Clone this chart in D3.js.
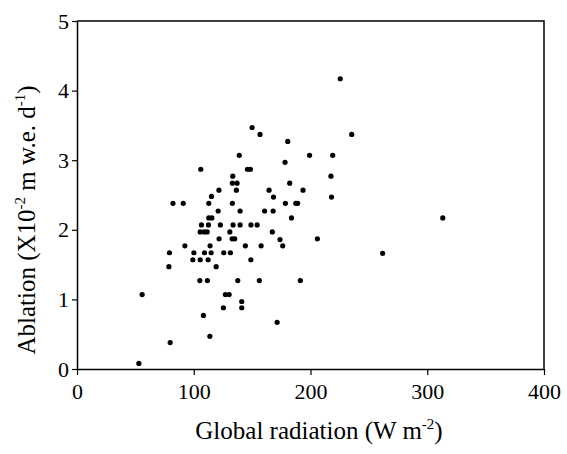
<!DOCTYPE html>
<html>
<head>
<meta charset="utf-8">
<script src="https://cdn.jsdelivr.net/npm/d3@7"></script>
<style>
  body { margin: 0; background: #fff; }
  svg { display: block; font-family: "Liberation Serif", "DejaVu Serif", serif; }
  .tick text { font-size: 22px; fill: #000; }
</style>
</head>
<body>
<div id="vis"></div>
<script>
// global radiation (W m-2) vs ablation (x10-2 m w.e. d-1)
var radiation = [
  53, 55.8, 79.8, 78.7, 79.2, 82.2, 91, 92.4, 99.2, 100.1,
  105.5, 105.2, 105.5, 106.6, 106, 108.3, 108.9, 109.2, 111.5, 111.7,
  112.3, 112.6, 112.9, 112.9, 113.8, 114, 114.9, 115.2, 115.5, 119.2,
  120.9, 121.7, 121.6, 122.8, 125.4, 125.7, 127.1, 130.3, 130.9, 131.4,
  132.9, 133.1, 133.1, 133.4, 133.7, 135.1, 136.5, 137.1, 137.7, 139,
  139.7, 139.7, 141.1, 141.1, 144.2, 146, 148.5, 149, 148.9, 150,
  154.3, 156.2, 156.8, 157.7, 160.7, 164.5, 167.3, 168, 168.3, 171.4,
  173.9, 176.2, 178.2, 178.5, 180.5, 182.2, 183.7, 187.4, 189, 191.3,
  193.6, 199.2, 205.9, 217.5, 218, 219, 225.5, 235.3, 261.8, 313.3
];
var ablation = [
  0.08, 1.07, 0.38, 1.47, 1.67, 2.38, 2.38, 1.77, 1.57, 1.67,
  1.57, 1.27, 1.97, 2.07, 2.87, 0.77, 1.97, 1.67, 1.97, 1.27,
  1.57, 2.07, 2.38, 2.17, 0.47, 1.77, 1.67, 2.48, 2.17, 1.47,
  2.27, 1.87, 2.57, 2.07, 0.88, 1.67, 1.07, 1.07, 1.97, 1.67,
  1.87, 2.38, 2.67, 2.77, 2.07, 1.87, 2.57, 2.67, 1.27, 3.07,
  2.27, 2.07, 0.97, 0.88, 1.77, 2.87, 2.87, 2.07, 1.57, 3.47,
  2.07, 1.27, 3.37, 1.77, 2.27, 2.57, 1.97, 2.27, 2.47, 0.67,
  1.86, 1.77, 2.97, 2.38, 3.27, 2.67, 2.17, 2.38, 2.38, 1.27,
  2.57, 3.07, 1.87, 2.77, 2.47, 3.07, 4.17, 3.37, 1.66, 2.17
];
var xTicks = [0, 100, 200, 300, 400];
var yTicks = [0, 1, 2, 3, 4, 5];

var width = 567;
var height = 454;
var margin = { top: 21, right: 23, bottom: 85, left: 77 };
var innerW = width - margin.left - margin.right;
var innerH = height - margin.top - margin.bottom;

var svg = d3.select('#vis')
  .append('svg')
  .attr('width', width)
  .attr('height', height);

var g = svg.append('g')
  .attr('transform', 'translate(' + margin.left + ',' + margin.top + ')');

var x = d3.scaleLinear().domain([0, 400]).range([0, innerW]);
var y = d3.scaleLinear().domain([0, 5]).range([innerH, 0]);

// frame (top and right)
g.append('path')
  .attr('d', 'M0,0H' + innerW + 'V' + innerH)
  .attr('fill', 'none')
  .attr('stroke', '#000')
  .attr('stroke-width', 1.5);

var xAxis = g.append('g')
  .attr('transform', 'translate(0,' + innerH + ')')
  .call(d3.axisBottom(x).tickValues(xTicks).tickFormat(d3.format('d'))
    .tickSize(6).tickPadding(8).tickSizeOuter(0));

var yAxis = g.append('g')
  .call(d3.axisLeft(y).tickValues(yTicks).tickFormat(d3.format('d'))
    .tickSize(5).tickPadding(3).tickSizeOuter(0));

[xAxis, yAxis].forEach(function (ax) {
  ax.select('.domain').attr('stroke-width', 1.5);
  ax.selectAll('.tick line').attr('stroke-width', 1.2);
  ax.attr('font-family', null).attr('font-size', null);
});

var points = radiation.map(function (r, i) { return { r: r, a: ablation[i] }; });

g.selectAll('.dot')
  .data(points)
  .enter().append('circle')
  .attr('class', 'dot')
  .attr('cx', function (d) { return x(d.r); })
  .attr('cy', function (d) { return y(d.a); })
  .attr('r', 2.6)
  .attr('fill', '#000');

// x title
var xt = svg.append('text')
  .attr('x', 319)
  .attr('y', 439)
  .attr('text-anchor', 'middle')
  .attr('font-size', 25);
xt.append('tspan').text('Global radiation (W m');
xt.append('tspan').attr('font-size', 15).attr('dy', -10).text('-2');
xt.append('tspan').attr('dy', 10).text(')');

// y title
var yt = svg.append('text')
  .attr('transform', 'translate(35,220) rotate(-90)')
  .attr('text-anchor', 'middle')
  .attr('font-size', 25);
yt.append('tspan').text('Ablation (X10');
yt.append('tspan').attr('font-size', 15).attr('dy', -10).text('-2');
yt.append('tspan').attr('dy', 10).text(' m w.e. d');
yt.append('tspan').attr('font-size', 15).attr('dy', -10).text('-1');
yt.append('tspan').attr('dy', 10).text(')');
</script>
</body>
</html>
